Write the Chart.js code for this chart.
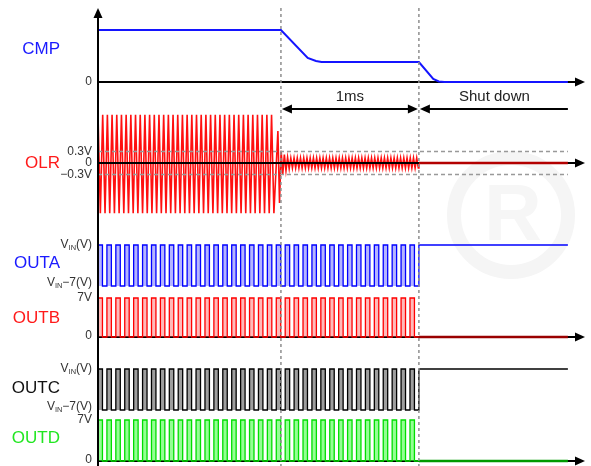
<!DOCTYPE html>
<html>
<head>
<meta charset="utf-8">
<script src="https://cdn.jsdelivr.net/npm/chart.js@4.4.0/dist/chart.umd.min.js"></script>
<style>
  html, body { margin:0; padding:0; background:#fff; }
  #wrap { width:591px; height:466px; position:relative; }
</style>
</head>
<body>
<div id="wrap"><canvas id="c" width="591" height="466"></canvas></div>
<script>
// ===== DATA (time in ms) =====
const T_FAULT = 1.326;   // OLR goes open, 1ms timer starts
const T_OFF   = 2.326;   // shut down
const T_END   = 3.406;   // end of drawn traces
const T_MAX   = 3.53;    // arrow tips

// CMP
const cmpTimes = [0, 1.326, 1.52, 1.58, 1.62, 2.326, 2.43, 2.47, 2.51, 3.406];
const cmpVolts = [2.6, 2.6, 1.2, 1.05, 1.0, 1.0, 0.15, 0.03, 0, 0];

// OLR, normal run (half-cycle peaks) and after the fault
const OLR_RUN_STEP = 0.017;
const olrRunV = [
  1.27,-1.32, 1.27,-1.32, 1.27,-1.32, 1.27,-1.32, 1.27,-1.32, 1.27,-1.32, 1.27,-1.32, 1.27,-1.32, 1.27,-1.32, 1.27,-1.32,
  1.27,-1.32, 1.27,-1.32, 1.27,-1.32, 1.27,-1.32, 1.27,-1.32, 1.27,-1.32, 1.27,-1.32, 1.27,-1.32, 1.27,-1.32, 1.27,-1.32,
  1.27,-1.32, 1.27,-1.32, 1.27,-1.32, 1.27,-1.32, 1.27,-1.32, 1.27,-1.32, 1.27,-1.32, 1.27,-1.32, 1.27,-1.32, 1.27,-1.32,
  1.27,-1.32, 1.27,-1.32, 1.27,-1.32, 1.27,-1.32, 1.27,-1.32, 1.27,-1.32, 1.27,-1.32, 1.27,-1.32
];
const OLR_FAULT_T0 = 1.304, OLR_FAULT_STEP = 0.0117;
const olrFaultV = [
  0.84,-1.05, 0.32,-0.3, 0.22,-0.2, 0.15,-0.15,
  0.13,-0.13, 0.13,-0.13, 0.13,-0.13, 0.13,-0.13, 0.13,-0.13, 0.13,-0.13, 0.13,-0.13, 0.13,-0.13,
  0.13,-0.13, 0.13,-0.13, 0.13,-0.13, 0.13,-0.13, 0.13,-0.13, 0.13,-0.13, 0.13,-0.13, 0.13,-0.13,
  0.13,-0.13, 0.13,-0.13, 0.13,-0.13, 0.13,-0.13, 0.13,-0.13, 0.13,-0.13, 0.13,-0.13, 0.13,-0.13,
  0.13,-0.13, 0.13,-0.13, 0.13,-0.13, 0.13,-0.13, 0.13,-0.13, 0.13,-0.13, 0.13,-0.13, 0.13,-0.13,
  0.13,-0.13, 0.13,-0.13, 0.13,-0.13, 0.13,-0.13, 0.13,-0.13, 0.13,-0.13, 0.13,-0.13, 0.13,-0.13
];

// gate drive: 1 = high, 0 = low, one entry per half period until shut down
const switchStates = [
  1,0,1,0,1,0,1,0,1,0,1,0,1,0,1,0,1,0,
  1,0,1,0,1,0,1,0,1,0,1,0,1,0,1,0,1,0,
  1,0,1,0,1,0,1,0,1,0,1,0,1,0,1,0,1,0,
  1,0,1,0,1,0,1,0,1,0,1,0,1,0,1,0,1,0
];
const SW_HALF = T_OFF / switchStates.length;

// tick labels
const cmpTickVals = [0];
const cmpTickText = ['0'];
const olrTickVals = [0.3, 0, -0.3];
const olrTickText = ['0.3V', '0', '\u22120.3V'];
const hsTickVals = [0, -7];          // VIN relative
const lsTickVals = [7, 0];
const lsTickText = ['7V', '0'];

// ===== LAYOUT =====
const H = 466;
const lane = (zeroPx, pxPerUnit) => ({ min: -(H - zeroPx) / pxPerUnit, max: zeroPx / pxPerUnit, display:false });

const xy = (ts, vs) => ts.map((t, i) => ({ x: t, y: vs[i] }));
const sampled = (t0, dt, vs) => vs.map((v, i) => ({ x: t0 + i * dt, y: v }));
function pulses(states, hi, lo, endState){
  const pts = states.map((s, i) => ({ x: i * SW_HALF, y: s ? hi : lo }));
  pts.push({ x: T_OFF, y: endState ? hi : lo });
  return pts;
}
const tail = v => [{ x: T_OFF, y: v }, { x: T_END, y: v }];

const olrData = sampled(0, OLR_RUN_STEP, olrRunV)
  .concat(sampled(OLR_FAULT_T0, OLR_FAULT_STEP, olrFaultV))
  .concat([{ x: T_OFF, y: 0 }]);

const base = { pointRadius:0, tension:0, fill:false };
const datasets = [
  { ...base, label:'CMP', yAxisID:'yCmp', data: xy(cmpTimes, cmpVolts), borderColor:'#1414ff', borderWidth:2 },
  { ...base, label:'OLR', yAxisID:'yOlr', data: olrData, borderColor:'#ff1010', borderWidth:1.6 },
  { ...base, label:'OLR off', yAxisID:'yOlr', data: tail(0), borderColor:'#b30000', borderWidth:2.5 },
  { ...base, label:'OUTA', yAxisID:'yA', data: pulses(switchStates, 0, -7, 1), stepped:true,
    borderColor:'#0000ff', borderWidth:1.3, fill:{ value:-7 }, backgroundColor:'rgba(90,90,255,0.45)' },
  { ...base, label:'OUTA off', yAxisID:'yA', data: tail(0), borderColor:'#0000ff', borderWidth:1.3 },
  { ...base, label:'OUTB', yAxisID:'yB', data: pulses(switchStates, 7, 0, 0), stepped:true,
    borderColor:'#ff0000', borderWidth:1.3, fill:{ value:0 }, backgroundColor:'rgba(255,90,90,0.42)' },
  { ...base, label:'OUTB off', yAxisID:'yB', data: tail(0), borderColor:'#9a0000', borderWidth:2.5 },
  { ...base, label:'OUTC', yAxisID:'yC', data: pulses(switchStates, 0, -7, 1), stepped:true,
    borderColor:'#000000', borderWidth:1.3, fill:{ value:-7 }, backgroundColor:'rgba(0,0,0,0.38)' },
  { ...base, label:'OUTC off', yAxisID:'yC', data: tail(0), borderColor:'#000000', borderWidth:1.3 },
  { ...base, label:'OUTD', yAxisID:'yD', data: pulses(switchStates, 7, 0, 0), stepped:true,
    borderColor:'#00dd00', borderWidth:1.3, fill:{ value:0 }, backgroundColor:'rgba(60,255,60,0.55)' },
  { ...base, label:'OUTD off', yAxisID:'yD', data: tail(0), borderColor:'#009a00', borderWidth:2.5 }
];

// ===== DRAWING HELPERS =====
function head(ctx, x, y, dir){
  const L = 10, W = 4.5;
  ctx.beginPath();
  if (dir === 'right'){ ctx.moveTo(x, y); ctx.lineTo(x-L, y-W); ctx.lineTo(x-L, y+W); }
  if (dir === 'left'){ ctx.moveTo(x, y); ctx.lineTo(x+L, y-W); ctx.lineTo(x+L, y+W); }
  if (dir === 'up'){ ctx.moveTo(x, y); ctx.lineTo(x-W, y+L); ctx.lineTo(x+W, y+L); }
  ctx.closePath(); ctx.fill();
}
function hline(ctx, x0, x1, y, w, color, dash){
  ctx.save(); ctx.strokeStyle = color; ctx.lineWidth = w; ctx.setLineDash(dash || []);
  ctx.beginPath(); ctx.moveTo(x0, y); ctx.lineTo(x1, y); ctx.stroke(); ctx.restore();
}
// parts: [[text, isSub], ...] right aligned at xr
function richText(ctx, parts, xr, y, size){
  const fnt = s => s + 'px "Liberation Sans", Arial, sans-serif';
  let w = 0;
  parts.forEach(([t, sub]) => { ctx.font = fnt(sub ? size*0.62 : size); w += ctx.measureText(t).width; });
  let x = xr - w;
  ctx.textAlign = 'left'; ctx.textBaseline = 'middle';
  parts.forEach(([t, sub]) => {
    ctx.font = fnt(sub ? size*0.62 : size);
    ctx.fillText(t, x, sub ? y + 3 : y);
    x += ctx.measureText(t).width;
  });
}

const diagram = {
  id:'diagram',
  beforeDraw(chart){
    const ctx = chart.ctx;
    ctx.save();
    ctx.fillStyle = '#fff'; ctx.fillRect(0, 0, chart.width, chart.height);
    // faint watermark
    ctx.strokeStyle = '#f5f5f5'; ctx.lineWidth = 14;
    ctx.beginPath(); ctx.arc(511, 215, 57, 0, Math.PI*2); ctx.stroke();
    ctx.fillStyle = '#f6f6f6'; ctx.font = 'bold 80px "Liberation Sans", Arial';
    ctx.textAlign = 'center'; ctx.textBaseline = 'middle'; ctx.fillText('R', 513, 218);
    ctx.restore();
  },
  beforeDatasetsDraw(chart){
    const ctx = chart.ctx, s = chart.scales, x = s.x;
    const xl = x.getPixelForValue(0), xr = x.getPixelForValue(T_MAX);
    ctx.save(); ctx.fillStyle = '#000';
    [['yCmp', 0], ['yOlr', 0], ['yB', 0], ['yD', 0]].forEach(([id, v]) => {
      const y = s[id].getPixelForValue(v);
      hline(ctx, xl, xr - 8, y, 2, '#000');
      head(ctx, xr, y, 'right');
    });
    ctx.restore();
  },
  afterDatasetsDraw(chart){
    const ctx = chart.ctx, s = chart.scales, x = s.x;
    const xl = x.getPixelForValue(0);
    const xf = x.getPixelForValue(T_FAULT), xo = x.getPixelForValue(T_OFF), xe = x.getPixelForValue(T_END);
    ctx.save();
    // OLR zero line over the signal
    hline(ctx, xl, xo, s.yOlr.getPixelForValue(0), 2, '#000');
    // +-0.3V thresholds
    olrTickVals.filter(v => v !== 0).forEach(v =>
      hline(ctx, xl, xe, s.yOlr.getPixelForValue(v), 1.5, '#999', [4, 3]));
    // event markers
    ctx.strokeStyle = '#8e8e8e'; ctx.lineWidth = 1.5; ctx.setLineDash([3, 3]);
    [xf, xo].forEach(px => { ctx.beginPath(); ctx.moveTo(px, 8); ctx.lineTo(px, H); ctx.stroke(); });
    ctx.setLineDash([]);
    // vertical axis
    ctx.fillStyle = '#000';
    ctx.strokeStyle = '#000'; ctx.lineWidth = 2;
    ctx.beginPath(); ctx.moveTo(xl, H); ctx.lineTo(xl, 16); ctx.stroke();
    head(ctx, xl, 8, 'up');
    // 1ms and shut down arrows
    const ya = 109;
    hline(ctx, xf + 6, xo - 6, ya, 2, '#000');
    head(ctx, xf + 1, ya, 'left'); head(ctx, xo - 1, ya, 'right');
    hline(ctx, xo + 6, xe, ya, 2, '#000');
    head(ctx, xo + 1, ya, 'left');
    ctx.fillStyle = '#222'; ctx.font = '15px "Liberation Sans", Arial, sans-serif';
    ctx.textAlign = 'center'; ctx.textBaseline = 'middle';
    ctx.fillText('1ms', (xf + xo) / 2, 97);
    ctx.fillText('Shut down', (xo + xe) / 2 + 1, 97);

    // signal names
    ctx.font = '17px "Liberation Sans", Arial, sans-serif';
    ctx.textAlign = 'right';
    [['CMP', '#1a1aff', 'yCmp', 1.65], ['OLR', '#ff1a1a', 'yOlr', 0],
     ['OUTA', '#1a1aff', 'yA', -3.1], ['OUTB', '#ff1a1a', 'yB', 3.4],
     ['OUTC', '#111', 'yC', -3.3], ['OUTD', '#22e622', 'yD', 3.9]].forEach(([t, c, id, v]) => {
      ctx.fillStyle = c; ctx.fillText(t, 60, s[id].getPixelForValue(v));
    });

    // tick labels
    ctx.fillStyle = '#333';
    const TX = 92;
    cmpTickVals.forEach((v, i) => richText(ctx, [[cmpTickText[i]]], TX, s.yCmp.getPixelForValue(v), 12));
    olrTickVals.forEach((v, i) => richText(ctx, [[olrTickText[i]]], TX, s.yOlr.getPixelForValue(v), 12));
    ['yA', 'yC'].forEach(id => {
      richText(ctx, [['V'], ['IN', true], ['(V)']], TX, s[id].getPixelForValue(hsTickVals[0]), 12);
      richText(ctx, [['V'], ['IN', true], ['\u22127(V)']], TX, s[id].getPixelForValue(hsTickVals[1]) - 3, 12);
    });
    ['yB', 'yD'].forEach(id => {
      lsTickVals.forEach((v, i) => richText(ctx, [[lsTickText[i]]], TX, s[id].getPixelForValue(v) - (v === 0 ? 1 : 0), 12));
    });
    ctx.restore();
  }
};

new Chart(document.getElementById('c'), {
  type:'line',
  data:{ datasets },
  options:{
    responsive:false,
    animation:false,
    devicePixelRatio:1,
    events:[],
    layout:{ padding:{ left:98, right:6, top:0, bottom:0 } },
    plugins:{ legend:{ display:false }, tooltip:{ enabled:false } },
    scales:{
      x:{ type:'linear', min:0, max:T_MAX, display:false },
      yCmp: lane(82, 20),
      yOlr: lane(163, 38),
      yA: lane(245, 41/7),
      yB: lane(337, 39/7),
      yC: lane(369, 41/7),
      yD: lane(461, 41/7)
    }
  },
  plugins:[diagram]
});
</script>
</body>
</html>
